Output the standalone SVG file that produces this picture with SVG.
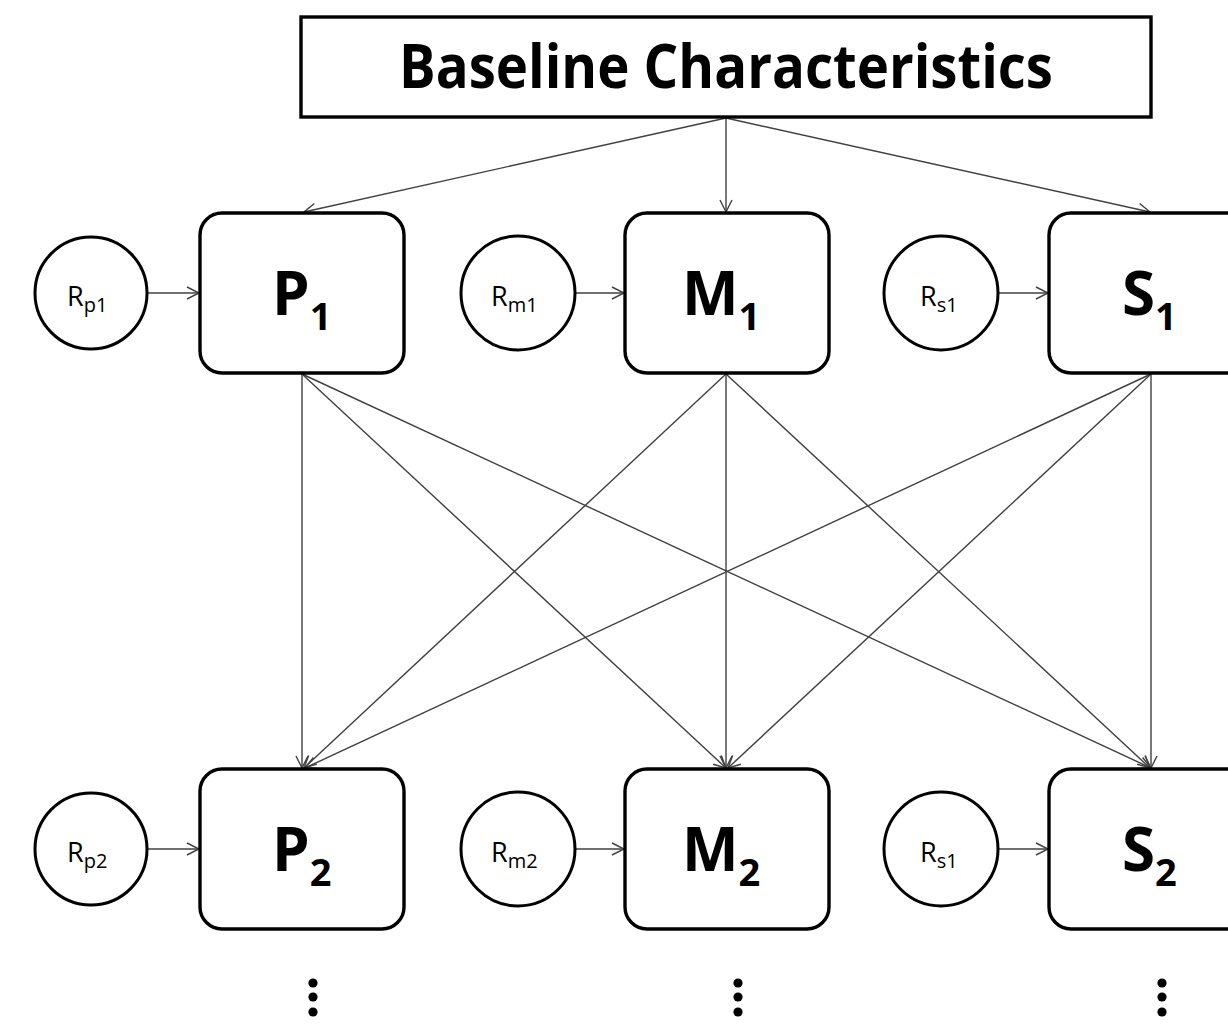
<svg xmlns="http://www.w3.org/2000/svg" width="1228" height="1030" viewBox="0 0 1228 1030">
  <style>
    .box { fill: #ffffff; stroke: #000000; stroke-width: 3.4; }
    .circ { fill: #ffffff; stroke: #000000; stroke-width: 3; }
    .edge { fill: none; stroke: #404040; stroke-width: 1.4; marker-end: url(#arrow); }
    .title { font-family: "Open Sans", "Liberation Sans", sans-serif; font-weight: 700; font-size: 60px; fill: #000; }
    .big { font-family: "Open Sans", "Liberation Sans", sans-serif; font-weight: 700; font-size: 60px; fill: #000; }
    .sub { font-family: "Open Sans", "Liberation Sans", sans-serif; font-weight: 700; font-size: 38px; fill: #000; }
    .r { font-family: "Open Sans", "Liberation Sans", sans-serif; font-size: 27px; fill: #000; }
    .rs { font-family: "Open Sans", "Liberation Sans", sans-serif; font-size: 20px; fill: #000; }
    .dot { fill: #000; }
  </style>
  <defs>
    <marker id="arrow" markerUnits="userSpaceOnUse" markerWidth="16" markerHeight="16" viewBox="-13 -8 16 16" refX="0" refY="0" orient="auto">
      <path d="M -12 -6 L 0 0 L -12 6" fill="none" stroke="#404040" stroke-width="1.4"/>
    </marker>
  </defs>
  <rect width="1228" height="1030" fill="#ffffff"/>

  <!-- connectors -->
  <g id="connectors">
    <!-- baseline to first wave -->
    <line class="edge" x1="726" y1="118" x2="304" y2="212"/>
    <line class="edge" x1="726" y1="118" x2="726" y2="212"/>
    <line class="edge" x1="726" y1="118" x2="1150" y2="212"/>
    <!-- residual inputs, wave 1 -->
    <line class="edge" x1="147" y1="293" x2="199" y2="293"/>
    <line class="edge" x1="575" y1="293" x2="624" y2="293"/>
    <line class="edge" x1="998" y1="293" x2="1048" y2="293"/>
    <!-- residual inputs, wave 2 -->
    <line class="edge" x1="147" y1="849" x2="199" y2="849"/>
    <line class="edge" x1="575" y1="849" x2="624" y2="849"/>
    <line class="edge" x1="998" y1="849" x2="1048" y2="849"/>
    <!-- cross-lagged paths from P1 -->
    <line class="edge" x1="302" y1="374" x2="302" y2="768"/>
    <line class="edge" x1="302" y1="374" x2="726" y2="768"/>
    <line class="edge" x1="302" y1="374" x2="1151" y2="768"/>
    <!-- from M1 -->
    <line class="edge" x1="726" y1="374" x2="304" y2="768"/>
    <line class="edge" x1="726" y1="374" x2="726" y2="768"/>
    <line class="edge" x1="726" y1="374" x2="1150" y2="768"/>
    <!-- from S1 -->
    <line class="edge" x1="1151" y1="374" x2="305" y2="768"/>
    <line class="edge" x1="1151" y1="374" x2="728" y2="768"/>
    <line class="edge" x1="1151" y1="374" x2="1151" y2="768"/>
  </g>

  <g id="baseline">
    <rect class="box" x="301" y="17" width="850" height="100"/>
    <text class="title" x="726" y="88" text-anchor="middle" textLength="654" lengthAdjust="spacingAndGlyphs">Baseline Characteristics</text>
  </g>

  <!-- wave 1 -->
  <g id="P1">
    <rect class="box" x="200" y="213" width="204" height="160" rx="22"/>
    <text x="272" y="315"><tspan class="big">P</tspan><tspan class="sub" dy="15">1</tspan></text>
  </g>
  <g id="M1">
    <rect class="box" x="625" y="213" width="204" height="160" rx="22"/>
    <text x="682" y="315"><tspan class="big">M</tspan><tspan class="sub" dy="15">1</tspan></text>
  </g>
  <g id="S1">
    <rect class="box" x="1049" y="213" width="204" height="160" rx="22"/>
    <text x="1122" y="315"><tspan class="big">S</tspan><tspan class="sub" dy="15">1</tspan></text>
  </g>
  <g id="Rp1">
    <circle class="circ" cx="91" cy="293" r="56"/>
    <text x="67" y="306"><tspan class="r">R</tspan><tspan class="rs" dy="6">p1</tspan></text>
  </g>
  <g id="Rm1">
    <circle class="circ" cx="518" cy="293" r="57"/>
    <text x="491" y="306"><tspan class="r">R</tspan><tspan class="rs" dy="6">m1</tspan></text>
  </g>
  <g id="Rs1">
    <circle class="circ" cx="941" cy="293" r="57"/>
    <text x="920" y="306"><tspan class="r">R</tspan><tspan class="rs" dy="6">s1</tspan></text>
  </g>

  <!-- wave 2 -->
  <g id="P2">
    <rect class="box" x="200" y="769" width="204" height="160" rx="22"/>
    <text x="272" y="871"><tspan class="big">P</tspan><tspan class="sub" dy="15">2</tspan></text>
  </g>
  <g id="M2">
    <rect class="box" x="625" y="769" width="204" height="160" rx="22"/>
    <text x="682" y="871"><tspan class="big">M</tspan><tspan class="sub" dy="15">2</tspan></text>
  </g>
  <g id="S2">
    <rect class="box" x="1049" y="769" width="204" height="160" rx="22"/>
    <text x="1122" y="871"><tspan class="big">S</tspan><tspan class="sub" dy="15">2</tspan></text>
  </g>
  <g id="Rp2">
    <circle class="circ" cx="91" cy="849" r="56"/>
    <text x="67" y="862"><tspan class="r">R</tspan><tspan class="rs" dy="6">p2</tspan></text>
  </g>
  <g id="Rm2">
    <circle class="circ" cx="518" cy="849" r="57"/>
    <text x="491" y="862"><tspan class="r">R</tspan><tspan class="rs" dy="6">m2</tspan></text>
  </g>
  <g id="Rs2">
    <circle class="circ" cx="941" cy="849" r="57"/>
    <text x="920" y="862"><tspan class="r">R</tspan><tspan class="rs" dy="6">s1</tspan></text>
  </g>

  <!-- continuation marks -->
  <g id="ellipsis">
    <circle class="dot" cx="313" cy="983" r="4.6"/>
    <circle class="dot" cx="313" cy="997" r="4.6"/>
    <circle class="dot" cx="313" cy="1012" r="4.6"/>
    <circle class="dot" cx="738" cy="983" r="4.6"/>
    <circle class="dot" cx="738" cy="997" r="4.6"/>
    <circle class="dot" cx="738" cy="1012" r="4.6"/>
    <circle class="dot" cx="1162" cy="983" r="4.6"/>
    <circle class="dot" cx="1162" cy="997" r="4.6"/>
    <circle class="dot" cx="1162" cy="1012" r="4.6"/>
  </g>
</svg>
